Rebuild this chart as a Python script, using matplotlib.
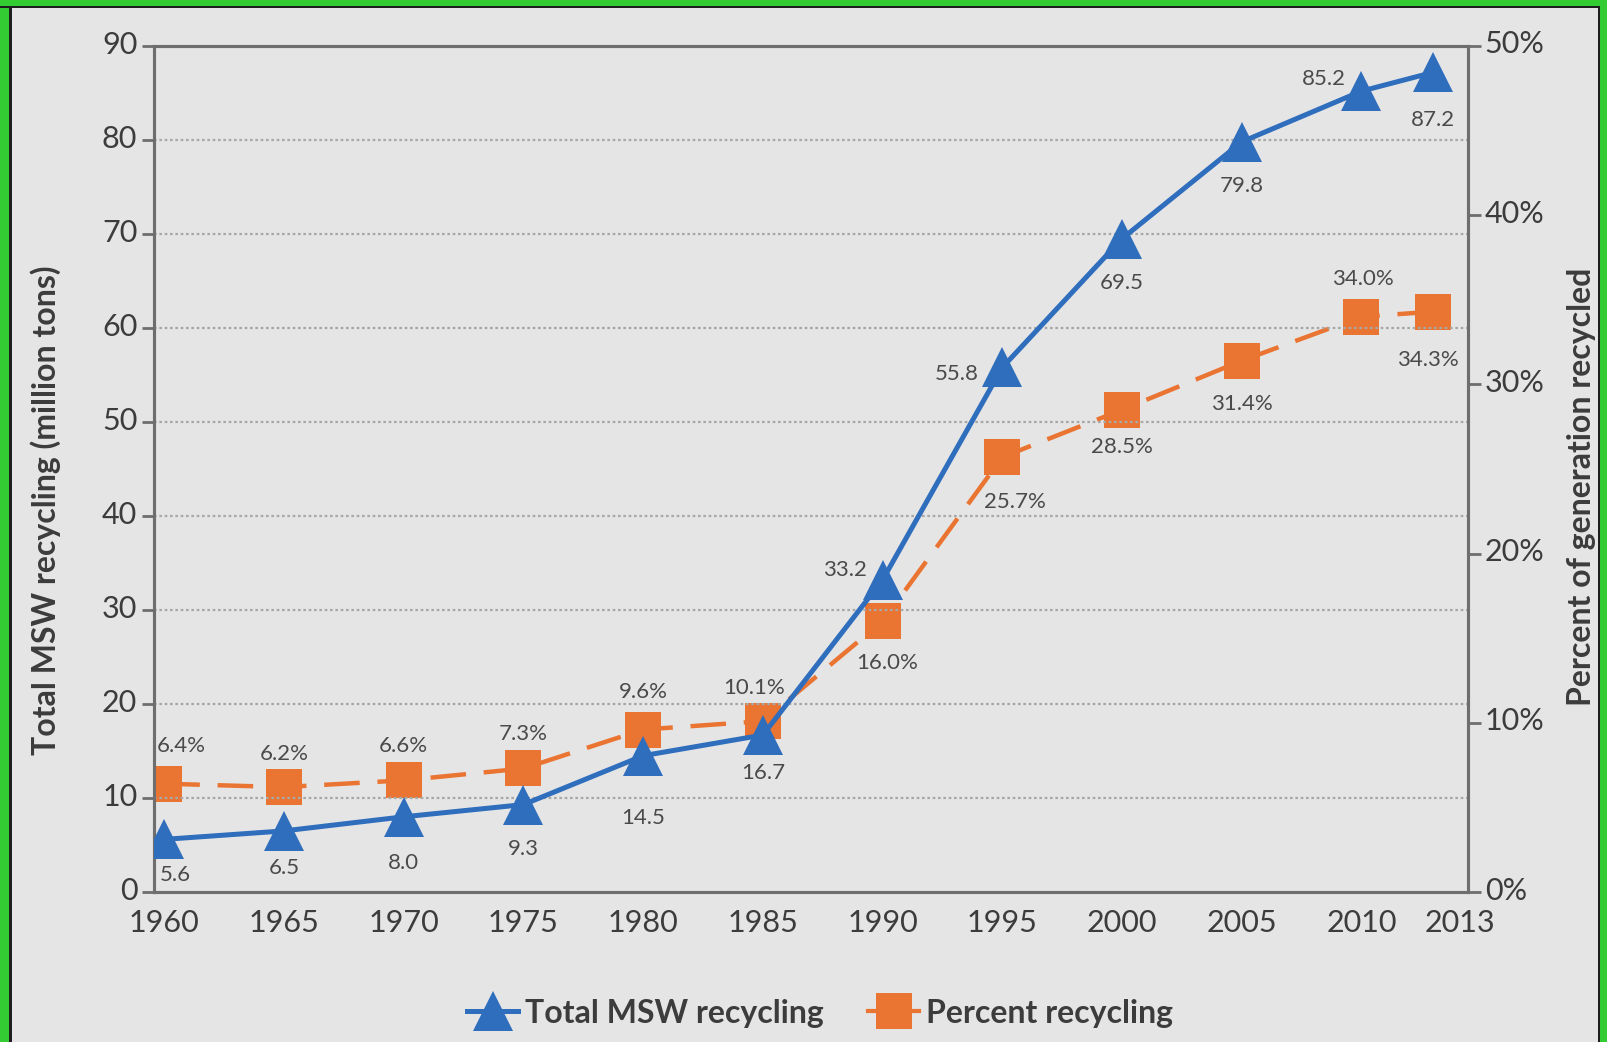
import matplotlib.pyplot as plt
import matplotlib.transforms as mtransforms
from matplotlib.patches import Rectangle
from matplotlib.lines import Line2D

# datos
anios = [1960, 1965, 1970, 1975, 1980, 1985, 1990, 1995, 2000, 2005, 2010, 2013]
total_msw = [5.6, 6.5, 8.0, 9.3, 14.5, 16.7, 33.2, 55.8, 69.5, 79.8, 85.2, 87.2]
porcentaje = [6.4, 6.2, 6.6, 7.3, 9.6, 10.1, 16.0, 25.7, 28.5, 31.4, 34.0, 34.3]

etiquetas_total = ["5.6", "6.5", "8.0", "9.3", "14.5", "16.7", "33.2", "55.8",
                   "69.5", "79.8", "85.2", "87.2"]
etiquetas_pct = ["6.4%", "6.2%", "6.6%", "7.3%", "9.6%", "10.1%", "16.0%", "25.7%",
                 "28.5%", "31.4%", "34.0%", "34.3%"]

# desplazamiento de las etiquetas (puntos)
desp_total = [(8, -26), (0, -27), (0, -33), (0, -32), (0, -45), (0, -27),
              (-27, 7), (-33, -5), (0, -32), (0, -32), (-27, 9), (0, -34)]
desp_pct = [(12, 27), (0, 24), (0, 25), (0, 25), (0, 27), (-6, 24),
            (3, -30), (9, -32), (0, -27), (0, -31), (1, 27), (-4, -35)]

AZUL = "#2f6dbd"
NARANJA = "#ea7431"
FONDO = "#e5e5e5"
TEXTO = "#3c3c3c"
GRIS_EJE = "#6e6e6e"
FUENTE = ["Lato", "DejaVu Sans"]

plt.rcParams['font.family'] = FUENTE

fig = plt.figure(figsize=(16.07, 10.42), dpi=100)
fig.patch.set_facecolor(FONDO)

# marco verde (arriba, izquierda, derecha)
W, H = 1607, 1042
verde = "#33cc33"
oscuro = "#1e1e1e"
for (x0, y0, w, h, c) in [(0, 0, 9, H, verde), (9, 0, 3, H - 6, oscuro),
                          (0, H - 6, W, 6, verde), (0, H - 8, W, 2, oscuro),
                          (W - 7, 0, 7, H, verde), (W - 9, 0, 2, H - 6, oscuro)]:
    fig.patches.append(Rectangle((x0 / W, y0 / H), w / W, h / H, transform=fig.transFigure,
                                 facecolor=c, edgecolor='none', zorder=10))

ax = fig.add_axes([154 / W, 1 - 892 / H, (1468 - 154) / W, (892 - 46) / H])
ax.set_facecolor(FONDO)
ax2 = ax.twinx()

ax.set_xlim(1959.57, 2014.45)
ax.set_ylim(0, 90)
ax2.set_ylim(0, 50)

# grilla punteada
for v in range(10, 90, 10):
    ax.axhline(v, color="#a8a8a8", linestyle=(0, (1.2, 1.2)), linewidth=1.6, zorder=1)

ax2.plot(anios, porcentaje, color=NARANJA, linewidth=3.2, dashes=(8, 4),
         marker='s', markersize=26, markeredgewidth=0, zorder=3)
ax2.set_zorder(1)
ax.set_zorder(2)
ax.patch.set_visible(False)
ax2.patch.set_visible(False)
ax.plot(anios, total_msw, color=AZUL, linewidth=3.6,
        marker='^', markersize=29, markeredgewidth=0, zorder=4)

for x, y, t, d in zip(anios, total_msw, etiquetas_total, desp_total):
    ax.annotate(t, (x, y), xytext=d, textcoords='offset points', ha='center', va='center',
                fontsize=16, color="#4a4a4a", zorder=6)
for x, y, t, d in zip(anios, porcentaje, etiquetas_pct, desp_pct):
    ax2.annotate(t, (x, y), xytext=d, textcoords='offset points', ha='center', va='center',
                 fontsize=16, color="#4a4a4a", zorder=6)

ax.set_xticks(anios)
ax.set_xticklabels([str(a) for a in anios])
ax.set_yticks(range(0, 91, 10))
ax2.set_yticks(range(0, 51, 10))
ax2.set_yticklabels([f"{v}%" for v in range(0, 51, 10)])

ax.tick_params(axis='x', length=0, pad=12, labelsize=22, labelcolor=TEXTO)
ax.tick_params(axis='y', length=9, width=2, color=GRIS_EJE, pad=3, labelsize=22, labelcolor=TEXTO)
ax2.tick_params(axis='y', length=9, width=2, color=GRIS_EJE, pad=3, labelsize=22, labelcolor=TEXTO)

# etiquetas del eje y un poco hacia arriba, como en el original
for l in ax.get_yticklabels() + ax2.get_yticklabels():
    l.set_transform(l.get_transform() + mtransforms.ScaledTranslation(0, 0.04, fig.dpi_scale_trans))

# 2013 algo desplazado a la derecha
lbl = ax.get_xticklabels()[-1]
lbl.set_transform(lbl.get_transform() + mtransforms.ScaledTranslation(0.27, 0, fig.dpi_scale_trans))

for a in (ax, ax2):
    for s in a.spines.values():
        s.set_color(GRIS_EJE)
        s.set_linewidth(2.2)

fig.text(46 / W, 1 - 510 / H, "Total MSW recycling (million tons)", rotation=90,
         ha='center', va='center', fontsize=23, fontweight='bold', color=TEXTO)
fig.text(1582 / W, 1 - 487 / H, "Percent of generation recycled", rotation=90,
         ha='center', va='center', fontsize=23, fontweight='bold', color=TEXTO)

h1 = Line2D([], [], color=AZUL, linewidth=3.6, marker='^', markersize=29, markeredgewidth=0)
h2 = Line2D([], [], color=NARANJA, linewidth=3, marker='s', markersize=26, markeredgewidth=0)
leg = fig.legend([h1, h2], ["Total MSW recycling", "Percent recycling"], loc='center',
                 bbox_to_anchor=(820 / W, 1 - 1013 / H), ncol=2, frameon=False,
                 handlelength=1.6, columnspacing=1.4, handletextpad=0.2,
                 prop={'family': FUENTE, 'weight': 'bold', 'size': 23})
for t in leg.get_texts():
    t.set_color(TEXTO)

fig.savefig("out.png", dpi=100, facecolor=FONDO)
